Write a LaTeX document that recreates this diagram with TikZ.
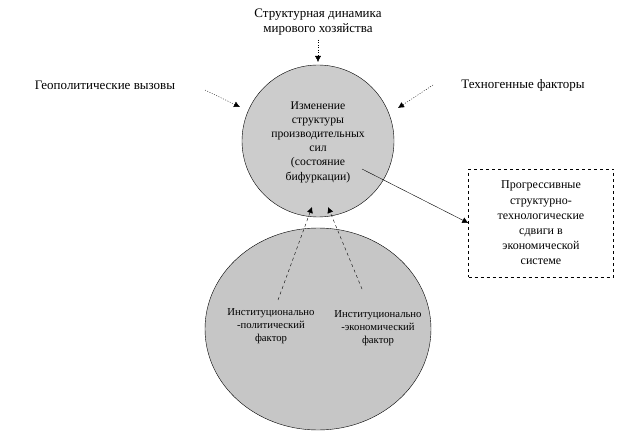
\documentclass[tikz,border=0pt]{standalone}
\usepackage{fontspec}
\setmainfont{Liberation Serif}
\usetikzlibrary{positioning,arrows.meta}

\begin{document}
\begin{tikzpicture}[x=1pt,y=-1pt]
            \tikzset{
                lbl/.style={align=center,font=\fontsize{13}{15}\selectfont,inner sep=1pt},
                small/.style={align=center,font=\fontsize{10.7}{13}\selectfont,inner sep=1pt},
                dotarrow/.style={dash pattern=on 1pt off 1.5pt,-{Latex[length=6pt,width=6pt]}},
                dasharrow/.style={dashed,-{Latex[length=6pt,width=6pt]}},}
            \useasboundingbox (0,0) rectangle (628,435);
            \fill [white](0,0) rectangle (628,435);
            % circles
            \draw [fill=gray!45] (318,329) ellipse (113 and 101);
            \draw [fill=gray!40] (318,141) circle (76);
            \node [lbl,font=\fontsize{11.7}{14.2}\selectfont] (change) at (318,142) {Изменение\\структуры\\производительных\\сил\\(состояние\\бифуркации)};
            \node [lbl] (dyn) at (318,22) {Структурная динамика\\мирового хозяйства};
            \node [lbl] (geo) at (105,85) {Геополитические вызовы};
            \node [lbl] (tech) at (523,85) {Техногенные факторы};
            \node [lbl,draw,dashed,minimum width=145,minimum height=108,font=\fontsize{12}{15.2}\selectfont] (shift) at (541,223) {Прогрессивные\\структурно-\\технологические\\сдвиги в\\экономической\\системе};
            \node [small] (pol) at (271,326) {Институционально\\-политический\\фактор};
            \node [small] (econ) at (378,328) {Институционально\\-экономический\\фактор};
            \coordinate (a1) at (318,62);
            \coordinate (a2) at (240,107);
            \coordinate (a3) at (398,108);
            \coordinate (a4) at (362,169);
            \coordinate (b1) at (312,207);
            \coordinate (b2) at (328,207);
            % arrows
            \draw [dotarrow] (318,40) -- (a1);
            \draw [dotarrow] (205,90) -- (a2);
            \draw [dotarrow] (433,85) -- (a3);
            \draw [-{Latex[length=6pt,width=6pt]}] (a4) -- (shift.west);
            \draw [dasharrow] (278,300) -- (b1);
            \draw [dasharrow] (362,289) -- (b2);
        \end{tikzpicture}
\end{document}
